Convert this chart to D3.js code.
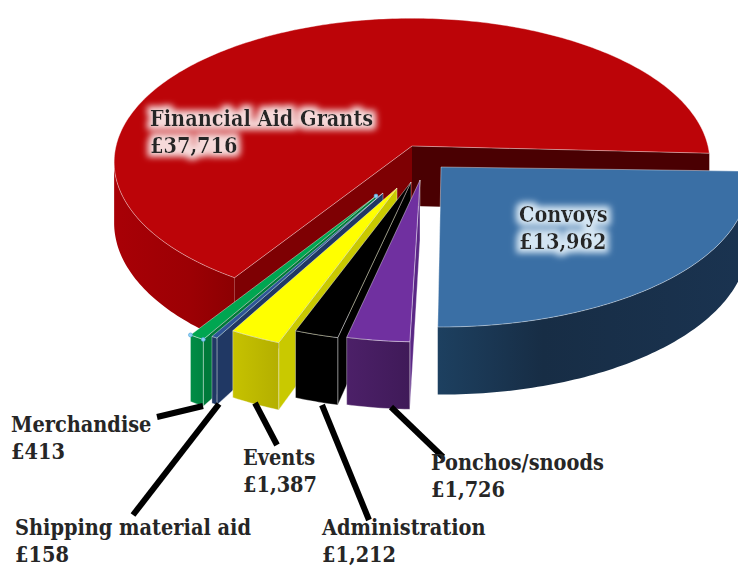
<!DOCTYPE html>
<meta charset="utf-8">
<head>
<style>
body { margin: 0; background: white; }
text { font-family: "DejaVu Serif Condensed", "DejaVu Serif", serif; font-weight: bold; font-size: 21.5px; fill: #262626; }
</style>
</head>
<script src="https://d3js.org/d3.v7.min.js"></script>
<div id="chart"></div>
<script>
// chart values, in pie order (clockwise from the right hand edge)
var categories = ["Convoys", "Ponchos/snoods", "Administration", "Events", "Shipping material aid", "Merchandise", "Financial Aid Grants"];
var amounts = [13962, 1726, 1212, 1387, 158, 413, 37716];
var valueLabels = ["£13,962", "£1,726", "£1,212", "£1,387", "£158", "£413", "£37,716"];

var width = 738, height = 568;

// pie geometry: centre, radius, tilt, perspective, thickness
var cx = 412, cy = 146, R = 296, tilt = 0.48, persp = 0.112, depth = 60;

var svg = d3.select("#chart").append("svg")
  .attr("width", width)
  .attr("height", height)
  .style("display", "block");

var defs = svg.append("defs");

function gradient(id, x1, x2, stops) {
  var g = defs.append("linearGradient")
    .attr("id", id)
    .attr("gradientUnits", "userSpaceOnUse")
    .attr("x1", x1).attr("x2", x2).attr("y1", 0).attr("y2", 0);
  stops.forEach(function(s) {
    g.append("stop").attr("offset", s[0]).attr("stop-color", s[1]);
  });
  return "url(#" + id + ")";
}

// look of each slice, same order as categories
var looks = [
  {dx: 29, dy: 21, sx: 1.03, sy: 1, turn: -1.2, top: "#3a6fa5", face: "#1b3a58", wall: gradient("w0", 438, 738, [[0, "#1d4060"], [0.35, "#172d45"], [1, "#1a3350"]])},
  {dx: 8, dy: 34, sx: 1, sy: 1.01, turn: 0, top: "#7030a0", face: "#5a2785", wall: gradient("w1", 347, 411, [[0, "#4c2068"], [1, "#3f1a58"]])},
  {dx: -1, dy: 36, sx: 1, sy: 1, turn: 0, top: "#000", face: "#000", wall: "#000"},
  {dx: -15, dy: 42, sx: 1.02, sy: 1.035, turn: 0, top: "#ffff00", face: "#c9c900", wall: gradient("w3", 233, 281, [[0, "#c6c200"], [1, "#b3ae00"]])},
  {dx: -29, dy: 47, sx: 1.03, sy: 1.05, turn: 0, top: "#2f5597", face: "#203864", wall: "#203864"},
  {dx: -36, dy: 50, sx: 1.04, sy: 1.05, turn: 0, top: "#00a651", face: "#007a3a", wall: gradient("w5", 192, 212, [[0, "#008c45"], [1, "#007d3c"]])},
  {dx: 0, dy: 0, sx: 1, sy: 1, turn: 0, top: "#bc0408", face: "#7e0003", faceEnd: "#4a0002", wall: gradient("w6", 115, 240, [[0, "#a80006"], [0.6, "#9c0004"], [1, "#8a0002"]])}
];

var pie = d3.pie()
  .sort(null)
  .startAngle(92.9 * Math.PI / 180)
  .endAngle((92.9 + 360) * Math.PI / 180);

var slices = pie(amounts).map(function(d, i) {
  var t = looks[i].turn * Math.PI / 180;
  return {startAngle: d.startAngle + t, endAngle: d.endAngle + t};
});

// plane position (fraction of radius, angle clockwise from the back) to screen
function project(r, a, look, down) {
  var u = r * Math.sin(a) * look.sx,
      v = -r * Math.cos(a) * look.sy,
      s = 1 / (1 - persp * v);
  return [cx + look.dx + u * s * R,
          cy + look.dy + tilt * v * s * R + (down ? depth * s : 0)];
}

var line = d3.line();

function arcPoints(a0, a1, look, down) {
  var n = Math.max(4, Math.ceil((a1 - a0) * 60));
  return d3.range(n + 1).map(function(i) {
    return project(1, a0 + (a1 - a0) * i / n, look, down);
  });
}

function radialFace(a, look) {
  return line([project(0, a, look, false), project(1, a, look, false), project(1, a, look, true), project(0, a, look, true)]) + "Z";
}

// back to front: the big slice, then merchandise through to ponchos, then convoys
var drawOrder = [6, 5, 4, 3, 2, 1, 0];
var edge = "rgba(255,255,255,0.5)";

drawOrder.forEach(function(i) {
  var d = slices[i], look = looks[i];
  var g = svg.append("g").attr("class", "slice");

  if (i == 6) {
    g.append("path").attr("d", radialFace(d.endAngle, look)).attr("fill", look.faceEnd);
  }
  if (i != 0) {
    g.append("path").attr("d", radialFace(d.startAngle, look))
      .attr("fill", look.face)
      .attr("stroke", i == 6 ? "none" : edge).attr("stroke-width", 0.7);
  }

  // the big slice only shows its wall up to the leftmost point of the rim
  var wallEnd = i == 6 ? 264 * Math.PI / 180 : d.endAngle;
  var topArc = arcPoints(d.startAngle, d.endAngle, look, false),
      wallTop = arcPoints(d.startAngle, wallEnd, look, false),
      wallLow = arcPoints(d.startAngle, wallEnd, look, true).reverse();
  g.append("path")
    .attr("d", line(wallTop.concat(wallLow)) + "Z")
    .attr("fill", look.wall)
    .attr("stroke", i == 6 || i == 0 ? "none" : edge).attr("stroke-width", 0.7);

  var apex = project(0, d.startAngle, look, false);
  g.append("path")
    .attr("d", line([apex].concat(topArc)) + "Z")
    .attr("fill", look.top)
    .attr("stroke", edge).attr("stroke-width", 0.8);
});

// selection handles left on the merchandise slice
var handles = [
  project(1, slices[5].endAngle, looks[5], false),
  project(1, slices[5].startAngle, looks[5], false),
  project(0, slices[5].startAngle, looks[5], false)
];
svg.selectAll("circle.handle")
  .data(handles)
  .enter().append("circle")
    .attr("class", "handle")
    .attr("cx", function(d) { return d[0]; })
    .attr("cy", function(d) { return d[1]; })
    .attr("r", 2)
    .attr("fill", "#8fd0f5")
    .attr("stroke", "#4a9fd8")
    .attr("stroke-width", 0.6);

// leader lines
var leaders = [
  [1, [443, 457], [391, 407]],
  [2, [369, 520], [322, 405]],
  [3, [277, 445], [255, 403]],
  [4, [133, 515], [219, 404]],
  [5, [157, 417], [203, 406]]
];
svg.selectAll("line.leader")
  .data(leaders)
  .enter().append("line")
    .attr("class", "leader")
    .attr("x1", function(d) { return d[1][0]; })
    .attr("y1", function(d) { return d[1][1]; })
    .attr("x2", function(d) { return d[2][0]; })
    .attr("y2", function(d) { return d[2][1]; })
    .attr("stroke", "black")
    .attr("stroke-width", 6);

// soft glow behind the two labels that sit on the pie
function glow(id, color) {
  var f = defs.append("filter").attr("id", id)
    .attr("x", "-15%").attr("y", "-25%").attr("width", "130%").attr("height", "150%");
  f.append("feMorphology").attr("in", "SourceAlpha").attr("operator", "dilate").attr("radius", 3.5).attr("result", "fat");
  f.append("feGaussianBlur").attr("in", "fat").attr("stdDeviation", 3).attr("result", "blur");
  f.append("feFlood").attr("flood-color", color).attr("flood-opacity", 1).attr("result", "c");
  f.append("feComposite").attr("in", "c").attr("in2", "blur").attr("operator", "in").attr("result", "halo");
  var m = f.append("feMerge");
  m.append("feMergeNode").attr("in", "halo");
  m.append("feMergeNode").attr("in", "SourceGraphic");
}
glow("glowRed", "#f6dada");
glow("glowBlue", "#d5e6f3");

// label positions, same order as categories
var labelPos = [[519, 222], [431, 470], [322, 535], [243, 465], [15, 535], [11, 432], [150, 126]];
var labelGlow = ["glowBlue", null, null, null, null, null, "glowRed"];
var lineGap = 27;

categories.forEach(function(name, i) {
  var t = svg.append("text")
    .attr("x", labelPos[i][0])
    .attr("y", labelPos[i][1]);
  if (labelGlow[i]) t.attr("filter", "url(#" + labelGlow[i] + ")");
  t.append("tspan").text(name);
  t.append("tspan")
    .attr("x", labelPos[i][0])
    .attr("dy", lineGap)
    .text(valueLabels[i]);
});
</script>
